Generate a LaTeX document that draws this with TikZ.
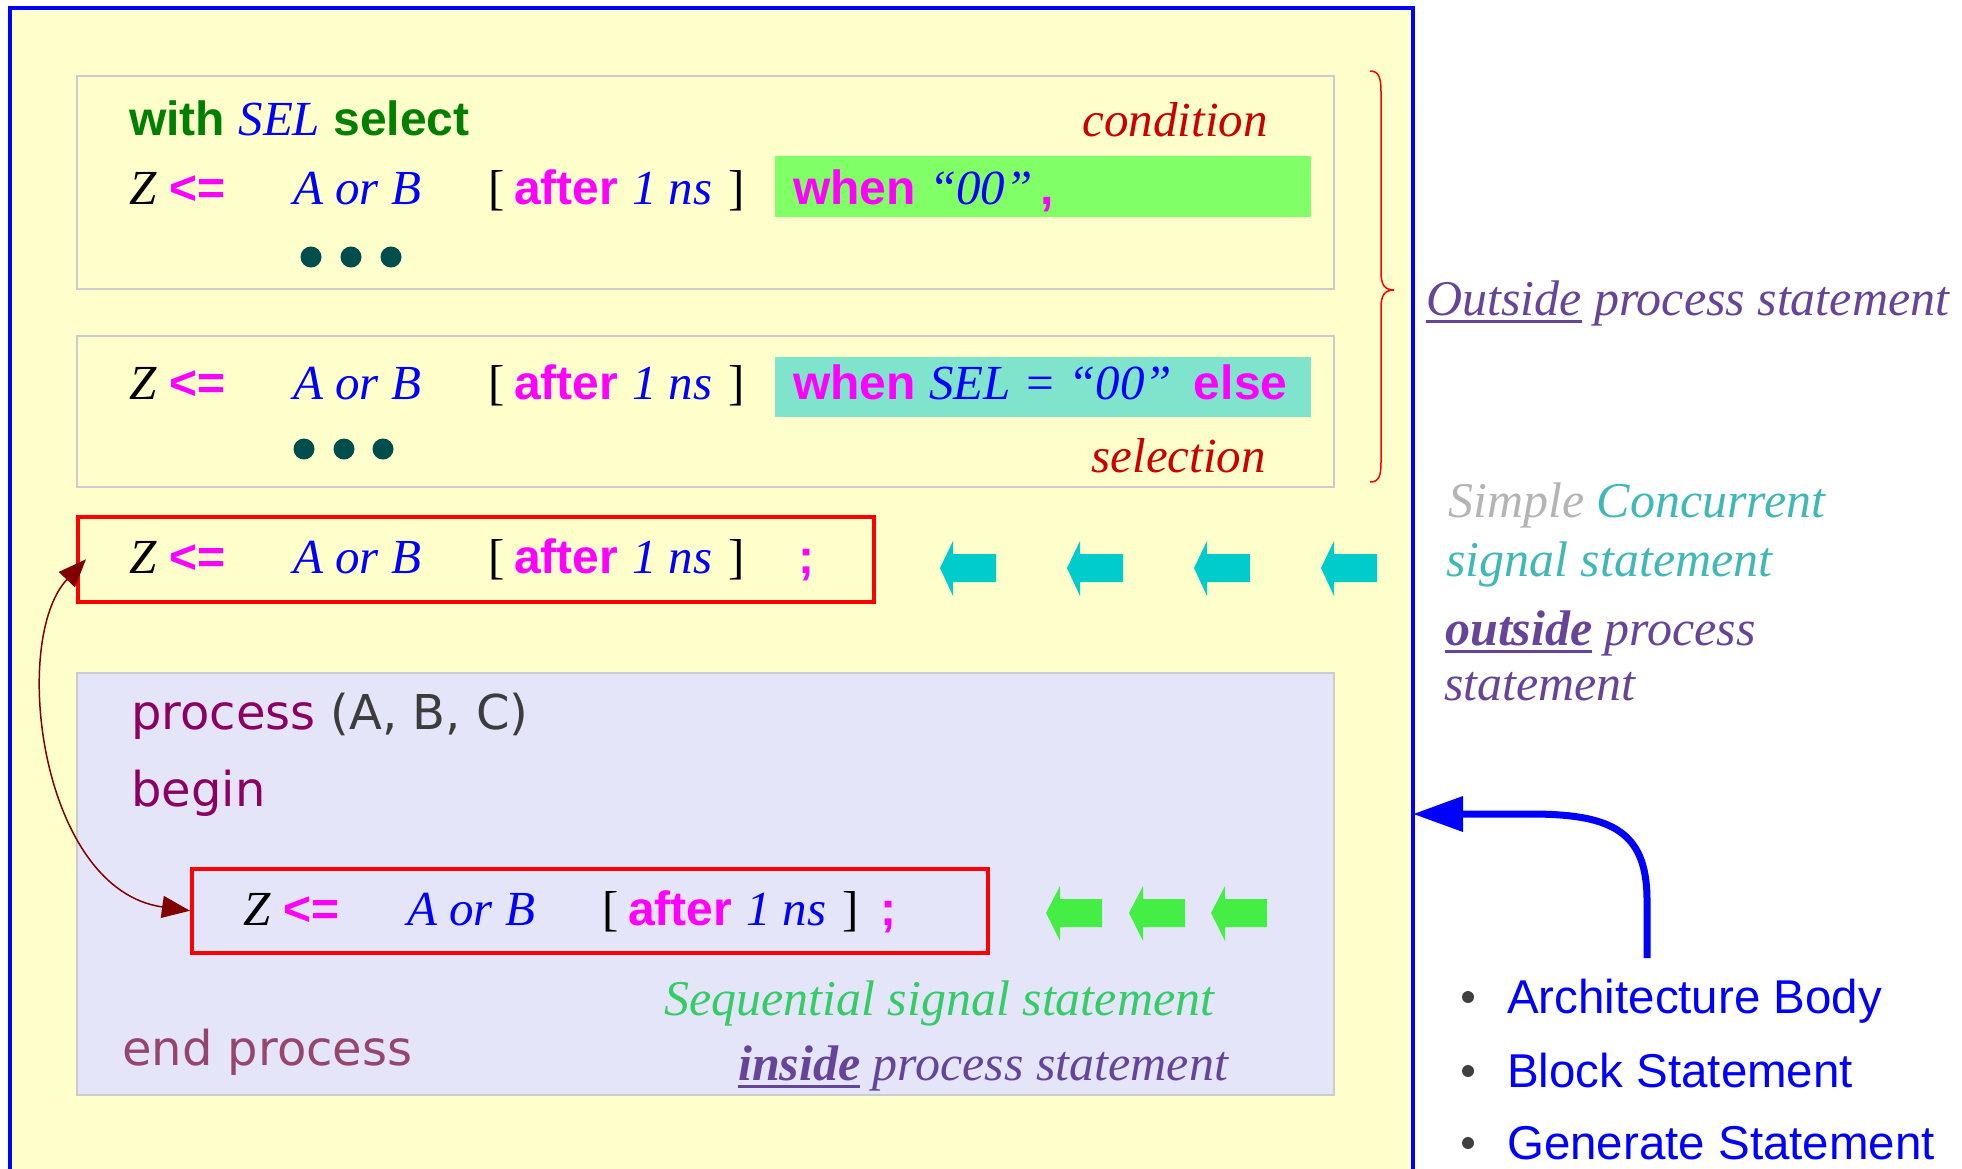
\documentclass[tikz,border=0pt]{standalone}
\usepackage{fontspec}
\setmainfont{Liberation Serif}
\setsansfont{Liberation Sans}
\newfontfamily\procfont{DejaVu Sans}
\usetikzlibrary{arrows.meta}

\newsavebox{\ulinebox}
\newcommand{\ulined}[1]{\sbox{\ulinebox}{#1}\rlap{\vrule height -5pt depth 8pt width \wd\ulinebox}\usebox{\ulinebox}}

\definecolor{yellowbg}{RGB}{255,255,204}
\definecolor{lavbg}{RGB}{229,229,250}
\definecolor{boxgray}{RGB}{204,204,204}
\definecolor{whengreen}{RGB}{128,255,102}
\definecolor{whencyan}{RGB}{128,228,204}
\definecolor{dotteal}{RGB}{0,77,77}
\definecolor{condred}{RGB}{204,0,0}
\definecolor{keygreen}{RGB}{0,128,0}
\definecolor{kwpink}{RGB}{255,0,255}
\definecolor{procpurple}{RGB}{140,0,100}
\definecolor{endpurple}{RGB}{150,70,110}
\definecolor{argsgray}{RGB}{60,60,60}
\definecolor{seqgreen}{RGB}{51,204,102}
\definecolor{notepurple}{RGB}{102,68,153}
\definecolor{simplegray}{RGB}{180,180,180}
\definecolor{conccyan}{RGB}{64,184,184}
\definecolor{arrcyan}{RGB}{0,204,204}
\definecolor{arrgreen}{RGB}{68,238,68}
\definecolor{linkred}{RGB}{128,0,0}
\definecolor{bulletgray}{RGB}{64,64,64}

\tikzset{
    codebox/.style={draw=boxgray, line width=2pt, inner sep=0, anchor=north west},
    redbox/.style={draw=red, line width=3.5pt, inner sep=0, anchor=north west},
    ital/.style={inner sep=0, anchor=base west, font=\fontsize{49}{58}\selectfont\itshape},
    kw/.style={inner sep=0, anchor=base west, text=kwpink, font=\fontsize{48}{58}\selectfont\sffamily\bfseries},
    brk/.style={inner sep=0, anchor=base west, font=\fontsize{49}{58}\selectfont},
    proc/.style={inner sep=0, anchor=base west, font=\fontsize{48}{58}\selectfont\procfont},
    note/.style={inner sep=0, anchor=base west, text=notepurple, font=\fontsize{50}{60}\selectfont\itshape},
    listitem/.style={inner sep=0, anchor=base west, text=blue, font=\fontsize{47.5}{56}\selectfont\sffamily},
}

% Z <= A or B [ after 1 ns ]
\newcommand{\sigassign}[3]{%
    \begin{scope}[shift={(#2,#3)}]
        \node[ital] (#1z) at (0,0) {Z};
        \node[kw] (#1op) at (40,0) {<=};
        \node[ital, text=blue] (#1ab) at (164,0) {A or B};
        \node[brk] (#1lb) at (359,0) {[};
        \node[kw] (#1af) at (385,0) {after};
        \node[ital, text=blue] (#1ns) at (503,0) {1 ns};
        \node[brk] (#1rb) at (599,0) {]};
    \end{scope}}

\begin{document}
\begin{tikzpicture}[x=1pt, y=-1pt]
    \useasboundingbox (0,0) rectangle (1962,1168);
    % architecture body
    \node[draw=blue, line width=3.5pt, fill=yellowbg, inner sep=0, anchor=north west,
        minimum width=1403pt, minimum height=1250pt] (archbox) at (8,6) {};
    % boxes
    \node[codebox, minimum width=1257pt, minimum height=213pt] (condbox) at (76,75) {};
    \node[codebox, minimum width=1257pt, minimum height=151pt] (selbox) at (76,335) {};
    \node[codebox, fill=lavbg, minimum width=1257pt, minimum height=422pt] (procbox) at (76,672) {};
    \node[redbox, minimum width=796pt, minimum height=85pt] (concbox) at (76,515) {};
    \node[redbox, minimum width=796pt, minimum height=84pt] (seqbox) at (190,867) {};
    \node[fill=whengreen, inner sep=0, anchor=north west, minimum width=536pt, minimum height=61pt] (whenA) at (775,156) {};
    \node[fill=whencyan, inner sep=0, anchor=north west, minimum width=536pt, minimum height=60pt] (whenB) at (775,357) {};

    % with ... select
    \node[kw, text=keygreen] (withsel) at (129,135)
        {with {\rmfamily\mdseries\itshape\fontsize{49}{58}\selectfont\color{blue}SEL} select};
    \node[ital, text=condred, anchor=base east] (cond) at (1268,136) {condition};
    \sigassign{ra}{129}{204}
    \node[kw] (whenAt) at (793,204) {when {\rmfamily\mdseries\itshape\fontsize{49}{58}\selectfont\color{blue}“00”}\,,};
    \foreach \x in {311,351,391}
        \fill[dotteal] (\x,257) circle (10.5pt);

    % when ... else
    \sigassign{rb}{129}{399}
    \node[kw] (whenBt) at (793,399)
        {when {\rmfamily\mdseries\itshape\fontsize{49}{58}\selectfont\color{blue}SEL = “00”}\hspace{22pt}else};
    \foreach \x in {304,344,383}
        \fill[dotteal] (\x,449) circle (10.5pt);
    \node[ital, text=condred, anchor=base east] (sel) at (1266,472) {selection};

    % concurrent
    \sigassign{rc}{129}{573}
    \node[kw] (rcsemi) at (798,573) {;};
    \foreach \x in {940,1067,1194,1321}
        \fill[arrcyan] (\x,568) -- (\x+13,541) -- (\x+13,554) -- (\x+56,554)
            -- (\x+56,582) -- (\x+13,582) -- (\x+13,596) -- cycle;

    % process
    \node[proc, text=procpurple] (procA) at (131,729) {process {\color{argsgray}(A, B, C)}};
    \node[proc, text=procpurple] (procB) at (131,806) {begin};
    \sigassign{sq}{243}{925}
    \node[kw] (sqsemi) at (880,925) {;};
    \foreach \x in {1046,1129,1211}
        \fill[arrgreen] (\x,913) -- (\x+14,886) -- (\x+14,899) -- (\x+56,899)
            -- (\x+56,927) -- (\x+14,927) -- (\x+14,941) -- cycle;
    \node[note, text=seqgreen] (seqnote) at (664,1015) {Sequential signal statement};
    \node[note] (insnote) at (738,1080) {\ulined{\bfseries inside} process statement};
    \node[proc, text=endpurple] (procC) at (122,1065) {end process};

    % link
    \draw[linkred, line width=1.5pt, {Triangle[length=28pt,width=22pt]}-{Triangle[length=28pt,width=22pt]}]
        ([xshift=10pt]concbox.west) .. controls (10,640) and (40,890) .. (seqbox.west);

    % brace
    \draw[red, line width=1.5pt] (1370,71) .. controls (1379,71) and (1381,78) .. (1381,92)
        -- (1381,272) .. controls (1381,284) and (1384,290) .. (1394,290)
        .. controls (1384,290) and (1381,296) .. (1381,308)
        -- (1381,462) .. controls (1381,476) and (1379,482) .. (1370,482);

    % notes
    \node[note] (outnote) at (1426,315) {\ulined{Outside} process statement};
    \node[note, text=simplegray] (simp) at (1448,517) {Simple {\color{conccyan}Concurrent}};
    \node[note, text=conccyan] (sig) at (1446,576) {signal statement};
    \node[note] (outb) at (1445,645) {\ulined{\bfseries outside} process};
    \node[note] (outc) at (1444,700) {statement};

    % list
    \foreach \y/\t [count=\i] in {1013/Architecture Body, 1087/Block Statement, 1159/Generate Statement} {
        \fill[bulletgray] (1468,\y-16) circle (6pt);
        \node[listitem] (item\i) at (1507,\y) {\t};
    }
    \coordinate (archtip) at (1413,814);
    \coordinate (listtop) at (1647,958);
    \draw[blue, line width=7pt, -{Triangle[length=50pt,width=34pt]}]
        (listtop) -- (1647,900) .. controls (1647,830) and (1610,814) .. (1530,814) -- (archtip);
\end{tikzpicture}
\end{document}
